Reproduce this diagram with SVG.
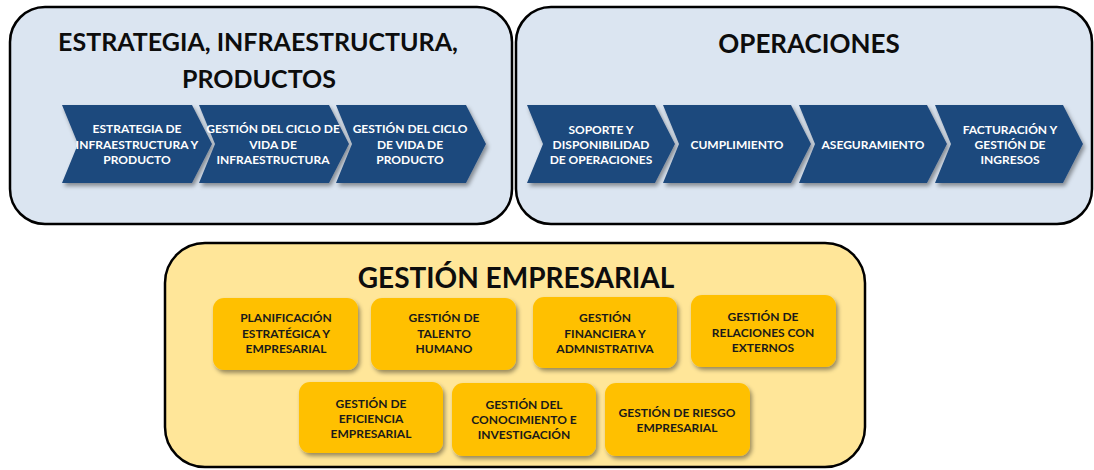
<svg xmlns="http://www.w3.org/2000/svg" width="1094" height="470" viewBox="0 0 1094 470">
  <defs>
    <filter id="shadow" x="-10%" y="-10%" width="125%" height="135%">
      <feDropShadow dx="2" dy="3" stdDeviation="2" flood-color="#000" flood-opacity="0.4"/>
    </filter>
    <!-- chevron shape, 150 wide, 78 tall -->
    <path id="chev" d="M0,0 H130 L150,39 L130,78 H0 L16,39 Z"/>
    <path id="chev2" d="M0,0 H128 L148,39 L128,78 H0 L16,39 Z"/>
  </defs>
  <style>
    .panel { stroke: #000; stroke-width: 2.5; }
    .blue { fill: #dbe5f1; }
    .yellow { fill: #ffe699; }
    .title { font-family: Lato, "Liberation Sans", sans-serif; font-weight: bold; fill: #0d0d0d; text-anchor: middle; }
    .step { fill: #1f497d; filter: url(#shadow); }
    .steptxt { font-family: Lato, "Liberation Sans", sans-serif; font-weight: bold; font-size: 12px; fill: #ffffff; text-anchor: middle; }
    .box { fill: #ffc000; filter: url(#shadow); }
    .boxtxt { font-family: Lato, "Liberation Sans", sans-serif; font-weight: bold; font-size: 12px; fill: #1a1a1a; text-anchor: middle; }
  </style>

  <!-- Strategy, infrastructure and products -->
  <g id="panel-estrategia">
    <rect class="panel blue" x="10" y="7" width="502" height="217" rx="35"/>
    <text class="title" x="258" y="51" font-size="25">ESTRATEGIA, INFRAESTRUCTURA,</text>
    <text class="title" x="259" y="88" font-size="25">PRODUCTOS</text>
  </g>
  <g id="step-estrategia">
    <use href="#chev" class="step" x="62" y="105"/>
    <text class="steptxt" x="137"><tspan x="137" y="133">ESTRATEGIA DE</tspan><tspan x="137" y="149">INFRAESTRUCTURA Y</tspan><tspan x="137" y="164">PRODUCTO</tspan></text>
  </g>
  <g id="step-ciclo-infra">
    <use href="#chev" class="step" x="199" y="105"/>
    <text class="steptxt"><tspan x="273" y="133">GESTIÓN DEL CICLO DE</tspan><tspan x="273" y="149">VIDA DE</tspan><tspan x="273" y="164">INFRAESTRUCTURA</tspan></text>
  </g>
  <g id="step-ciclo-producto">
    <use href="#chev" class="step" x="336" y="105"/>
    <text class="steptxt"><tspan x="410" y="133">GESTIÓN DEL CICLO</tspan><tspan x="410" y="149">DE VIDA DE</tspan><tspan x="410" y="164">PRODUCTO</tspan></text>
  </g>

  <!-- Operations -->
  <g id="panel-operaciones">
    <rect class="panel blue" x="516" y="7" width="576" height="217" rx="35"/>
    <text class="title" x="809" y="53" font-size="26">OPERACIONES</text>
  </g>
  <g id="step-soporte">
    <use href="#chev2" class="step" x="527" y="105"/>
    <text class="steptxt"><tspan x="601" y="134">SOPORTE Y</tspan><tspan x="601" y="149">DISPONIBILIDAD</tspan><tspan x="601" y="164">DE OPERACIONES</tspan></text>
  </g>
  <g id="step-cumplimiento">
    <use href="#chev2" class="step" x="663" y="105"/>
    <text class="steptxt" x="737" y="149">CUMPLIMIENTO</text>
  </g>
  <g id="step-aseguramiento">
    <use href="#chev2" class="step" x="799" y="105"/>
    <text class="steptxt" x="873" y="149">ASEGURAMIENTO</text>
  </g>
  <g id="step-facturacion">
    <use href="#chev2" class="step" x="935" y="105"/>
    <text class="steptxt"><tspan x="1010" y="134">FACTURACIÓN Y</tspan><tspan x="1010" y="149">GESTIÓN DE</tspan><tspan x="1010" y="164">INGRESOS</tspan></text>
  </g>

  <!-- Business management -->
  <g id="panel-gestion">
    <rect class="panel yellow" x="165" y="243" width="700" height="224" rx="40"/>
    <text class="title" x="516" y="288" font-size="28">GESTIÓN EMPRESARIAL</text>
  </g>
  <g id="box-planificacion">
    <rect class="box" x="213" y="298" width="145" height="72" rx="11"/>
    <text class="boxtxt"><tspan x="286" y="322">PLANIFICACIÓN</tspan><tspan x="286" y="338">ESTRATÉGICA Y</tspan><tspan x="286" y="353">EMPRESARIAL</tspan></text>
  </g>
  <g id="box-talento">
    <rect class="box" x="371" y="298" width="145" height="72" rx="11"/>
    <text class="boxtxt"><tspan x="444" y="322">GESTIÓN DE</tspan><tspan x="444" y="338">TALENTO</tspan><tspan x="444" y="353">HUMANO</tspan></text>
  </g>
  <g id="box-financiera">
    <rect class="box" x="533" y="297" width="144" height="71" rx="11"/>
    <text class="boxtxt"><tspan x="605" y="322">GESTIÓN</tspan><tspan x="605" y="338">FINANCIERA Y</tspan><tspan x="605" y="353">ADMNISTRATIVA</tspan></text>
  </g>
  <g id="box-relaciones">
    <rect class="box" x="691" y="295" width="145" height="72" rx="11"/>
    <text class="boxtxt"><tspan x="763" y="321">GESTIÓN DE</tspan><tspan x="763" y="337">RELACIONES CON</tspan><tspan x="763" y="352">EXTERNOS</tspan></text>
  </g>
  <g id="box-eficiencia">
    <rect class="box" x="299" y="382" width="144" height="71" rx="11"/>
    <text class="boxtxt"><tspan x="371" y="408">GESTIÓN DE</tspan><tspan x="371" y="423">EFICIENCIA</tspan><tspan x="371" y="438">EMPRESARIAL</tspan></text>
  </g>
  <g id="box-conocimiento">
    <rect class="box" x="452" y="383" width="144" height="73" rx="11"/>
    <text class="boxtxt"><tspan x="524" y="409">GESTIÓN DEL</tspan><tspan x="524" y="424">CONOCIMIENTO E</tspan><tspan x="524" y="439">INVESTIGACIÓN</tspan></text>
  </g>
  <g id="box-riesgo">
    <rect class="box" x="605" y="383" width="145" height="73" rx="11"/>
    <text class="boxtxt"><tspan x="677" y="417">GESTIÓN DE RIESGO</tspan><tspan x="677" y="432">EMPRESARIAL</tspan></text>
  </g>

  <!-- no connectors: the stages are laid out as adjoining chevrons -->
  <g id="connectors"/>
</svg>
